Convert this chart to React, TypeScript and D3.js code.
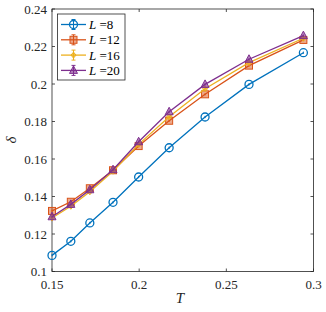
import React from "react";
import * as d3 from "d3";

// temperatures
const temps = [0.15, 0.1608, 0.1717, 0.185, 0.1997, 0.2172, 0.2378, 0.263, 0.2942];

const delta8 = [0.1086, 0.1161, 0.1259, 0.1369, 0.1504, 0.166, 0.1824, 0.1998, 0.2167];
const delta12 = [0.1323, 0.1372, 0.1444, 0.154, 0.1669, 0.1804, 0.1945, 0.2098, 0.2235];
const delta16 = [0.1285, 0.1348, 0.1425, 0.1535, 0.1678, 0.1825, 0.1975, 0.2114, 0.2244];
const delta20 = [0.1292, 0.1358, 0.1436, 0.1543, 0.1692, 0.1852, 0.1998, 0.2132, 0.2258];
const errs = [0.0006, 0.0006, 0.0006, 0.0006, 0.0006, 0.0006, 0.0006, 0.0006, 0.0006];

const legendLabels = ["8", "12", "16", "20"];
const xTicks = [0.15, 0.2, 0.25, 0.3];
const yTicks = [0.1, 0.12, 0.14, 0.16, 0.18, 0.2, 0.22, 0.24];

const series = [
  { values: delta8, color: "#0072BD", marker: "circle" },
  { values: delta12, color: "#D95319", marker: "square" },
  { values: delta16, color: "#EDB120", marker: "diamond" },
  { values: delta20, color: "#7E2F8E", marker: "triangle" },
];

const font = "'Liberation Serif', 'DejaVu Serif', serif";

function Marker({ type, x, y, color }: { type: string; x: number; y: number; color: string }) {
  if (type === "circle")
    return (
      <g>
        <circle cx={x} cy={y} r={4} fill="none" stroke={color} strokeWidth={1.3} />
      </g>
    );
  if (type === "square")
    return <rect x={x - 3.5} y={y - 3.5} width={7} height={7} fill={color} fillOpacity={0.5} stroke={color} strokeWidth={1} />;
  if (type === "diamond")
    return <path d={`M${x},${y - 3}L${x + 2.5},${y}L${x},${y + 3}L${x - 2.5},${y}Z`} fill={color} fillOpacity={0.6} stroke={color} strokeWidth={1} />;
  return <path d={`M${x},${y - 4.5}L${x + 4},${y + 3}L${x - 4},${y + 3}Z`} fill={color} fillOpacity={0.6} stroke={color} strokeWidth={1} />;
}

export default function App() {
  const W = 326, H = 312;
  const m = { left: 52, right: 12.5, top: 9, bottom: 40.5 };
  const x = d3.scaleLinear().domain([0.15, 0.3]).range([m.left, W - m.right]);
  const y = d3.scaleLinear().domain([0.1, 0.24]).range([H - m.bottom, m.top]);
  const line = d3.line<number>().x((_, i) => x(temps[i])).y((d) => y(d));
  const axisColor = "#262626";
  const tl = 3;

  return (
    <svg width={W} height={H} style={{ position: "absolute", left: 0, top: 0, background: "#fff" }}>
      <rect x={0} y={0} width={W} height={H} fill="#fff" />
      {/* box */}
      <rect x={m.left} y={m.top} width={W - m.right - m.left} height={H - m.bottom - m.top} fill="none" stroke={axisColor} strokeWidth={0.8} />
      {xTicks.map((t) => (
        <g key={"x" + t}>
          <line x1={x(t)} x2={x(t)} y1={y(0.1)} y2={y(0.1) - tl} stroke={axisColor} strokeWidth={0.8} />
          <line x1={x(t)} x2={x(t)} y1={y(0.24)} y2={y(0.24) + tl} stroke={axisColor} strokeWidth={0.8} />
          <text x={x(t)} y={y(0.1) + 17} textAnchor="middle" fontFamily={font} fontSize={13} fill="#262626">
            {t}
          </text>
        </g>
      ))}
      {yTicks.map((t) => (
        <g key={"y" + t}>
          <line x1={x(0.15)} x2={x(0.15) + tl} y1={y(t)} y2={y(t)} stroke={axisColor} strokeWidth={0.8} />
          <line x1={x(0.3)} x2={x(0.3) - tl} y1={y(t)} y2={y(t)} stroke={axisColor} strokeWidth={0.8} />
          <text x={x(0.15) - 5} y={y(t) + 4.5} textAnchor="end" fontFamily={font} fontSize={13} fill="#262626">
            {t}
          </text>
        </g>
      ))}
      <text x={180} y={303} textAnchor="middle" fontFamily={font} fontStyle="italic" fontSize={15} fill="#262626">
        T
      </text>
      <text transform={`translate(16,140) rotate(-90)`} textAnchor="middle" fontFamily={font} fontStyle="italic" fontSize={15} fill="#262626">
        δ
      </text>

      {series.map((s, si) => (
        <g key={si}>
          <path d={line(s.values) || ""} fill="none" stroke={s.color} strokeWidth={1.3} />
          {s.values.map((v, i) => (
            <g key={i}>
              <line x1={x(temps[i])} x2={x(temps[i])} y1={y(v - errs[i])} y2={y(v + errs[i])} stroke={s.color} strokeWidth={1} />
              <Marker type={s.marker} x={x(temps[i])} y={y(v)} color={s.color} />
            </g>
          ))}
        </g>
      ))}

      {/* legend */}
      <rect x={57.5} y={14} width={67.5} height={66} fill="#fff" stroke={axisColor} strokeWidth={0.8} />
      {series.map((s, i) => {
        const ly = 24.5 + i * 15.3;
        return (
          <g key={"l" + i}>
            <line x1={61} x2={86} y1={ly} y2={ly} stroke={s.color} strokeWidth={1.3} />
            <line x1={73.5} x2={73.5} y1={ly - 5} y2={ly + 5} stroke={s.color} strokeWidth={1} />
            <line x1={71.5} x2={75.5} y1={ly - 5} y2={ly - 5} stroke={s.color} strokeWidth={1} />
            <line x1={71.5} x2={75.5} y1={ly + 5} y2={ly + 5} stroke={s.color} strokeWidth={1} />
            <Marker type={s.marker} x={73.5} y={ly} color={s.color} />
            <text x={89} y={ly + 4.5} fontFamily={font} fontSize={13} fill="#000">
              <tspan fontStyle="italic">L</tspan> =<tspan>{legendLabels[i]}</tspan>
            </text>
          </g>
        );
      })}
    </svg>
  );
}
